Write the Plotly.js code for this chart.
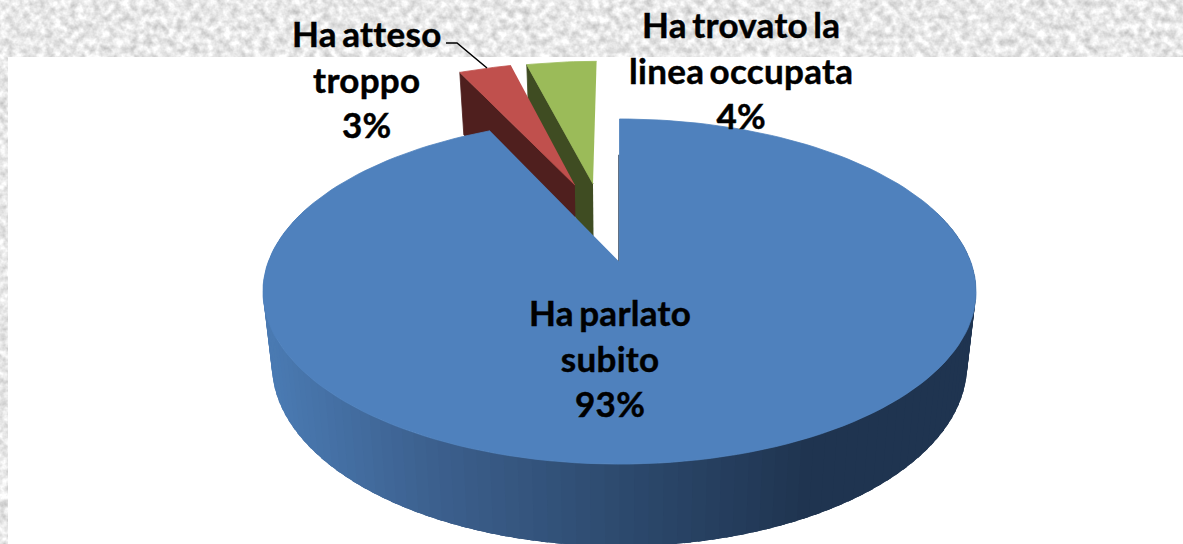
<!DOCTYPE html>
<html><head><meta charset="utf-8">
<script src="https://cdn.plot.ly/plotly-3.0.1.min.js"></script>
<style>
html,body{margin:0;padding:0;width:1183px;height:544px;overflow:hidden;background:#e9e9e9}
#tex{position:absolute;left:0;top:0}
#chart{position:absolute;left:0;top:0;width:1183px;height:544px}
.annotation-text{word-spacing:-3.5px;letter-spacing:.3px;stroke:#000;stroke-width:.45px}
</style></head>
<body>
<svg id="tex" width="1183" height="544" xmlns="http://www.w3.org/2000/svg">
<filter id="n" x="0" y="0" width="100%" height="100%" color-interpolation-filters="sRGB">
<feTurbulence type="fractalNoise" baseFrequency="0.13" numOctaves="3" seed="7"/>
<feColorMatrix type="matrix" values="0.38 0 0 0 0.72  0.38 0 0 0 0.72  0.38 0 0 0 0.72  0 0 0 0 1"/>
</filter>
<rect width="1183" height="544" filter="url(#n)"/>
</svg>
<div id="chart"></div>
<script>
const categories = ["Ha parlato<br>subito", "Ha atteso<br>troppo", "Ha trovato la<br>linea occupata"];
const values = [93, 3, 4];
const sliceColors = ["#4f81bd", "#c0504d", "#9bbb59"];
const sideColors = ["#1f3450", "#4f1f1e", "#3f4c22"];
const explodeX = [0, -0.138, -0.082];
const explodeY = [0, 0.499, 0.507];
const labelX = [610, 367, 741];
const labelY = [357.5, 78, 69.5];

// projection of the tilted pie disc to the page-pixel axes
const cx = 619.5, k = 0.1711;
const topPlane = {A: 351.3, B: 167.5, cy: 262};
const basePlane = {A: 342.5, B: 176, cy: 334};
function proj(p, X, Y) {
  const w = 1 + k * Y;
  return [cx + p.A * X / w, p.cy - p.B * Y / w];
}
function arcPts(p, i, a0, a1, n) {
  const pts = [];
  for (let j = 0; j <= n; j++) {
    const t = (a0 + (a1 - a0) * j / n) * Math.PI / 180;
    pts.push(proj(p, explodeX[i] + Math.sin(t), explodeY[i] + Math.cos(t)));
  }
  return pts;
}
function poly(pts, color, lw) {
  return {type: "scatter", mode: "lines", x: pts.map(q => q[0]), y: pts.map(q => q[1]),
    fill: "toself", fillcolor: color, line: {color: color, width: lw === undefined ? 0.8 : lw},
    hoverinfo: "skip", showlegend: false};
}
const total = values.reduce((a, b) => a + b, 0);
const starts = [], ends = [];
values.reduce((acc, v, i) => { starts[i] = acc; ends[i] = acc + v / total * 360; return ends[i]; }, 0);

const sideStops = [[270, [74, 122, 178]], [430, [60, 96, 142]], [620, [45, 74, 110]], [810, [31, 52, 80]], [1000, [31, 52, 80]]];
function sideColor(x) {
  for (let i = 1; i < sideStops.length; i++) {
    if (x <= sideStops[i][0]) {
      const a = sideStops[i - 1], b = sideStops[i];
      const f = Math.max(0, (x - a[0]) / (b[0] - a[0]));
      const c = a[1].map((v, j) => Math.round(v + (b[1][j] - v) * f));
      return "rgb(" + c.join(",") + ")";
    }
  }
  return "rgb(31,52,80)";
}

const traces = [];
// exploded slices: inner walls then top faces
[2, 1].forEach(i => {
  const a = starts[i] * Math.PI / 180;
  const edgeX = explodeX[i] + Math.sin(a), edgeY = explodeY[i] + Math.cos(a);
  traces.push(poly([
    proj(topPlane, explodeX[i], explodeY[i]), proj(topPlane, edgeX, edgeY),
    proj(basePlane, edgeX, edgeY), proj(basePlane, explodeX[i], explodeY[i])
  ], sideColors[i]));
  traces.push(poly([proj(topPlane, explodeX[i], explodeY[i])].concat(arcPts(topPlane, i, starts[i], ends[i], 12)), sliceColors[i]));
});
// outer wall of the main slice, shaded strip by strip; each strip overlaps the next
for (let t = 70; t < 290; t += 2) {
  const t1 = Math.min(t + 5, 290);
  const top = arcPts(topPlane, 0, t, t1, 1), base = arcPts(basePlane, 0, t, t1, 1);
  const mid = (arcPts(topPlane, 0, t, t + 2, 1)[0][0] + arcPts(topPlane, 0, t, t + 2, 1)[1][0]) / 2;
  traces.push(poly([top[0], top[1], base[1], base[0]], sideColor(mid), 0));
}
// thin dark edge at the start of the main slice
traces.push({type: "scatter", mode: "lines", x: [proj(topPlane, 0, 0)[0] - 0.6, proj(topPlane, 0, 0.72)[0] - 0.6],
  y: [proj(topPlane, 0, 0)[1], proj(topPlane, 0, 0.72)[1]], line: {color: sideColors[0], width: 1.2},
  hoverinfo: "skip", showlegend: false});
traces.push(poly([proj(topPlane, 0, 0)].concat(arcPts(topPlane, 0, starts[0], ends[0], 180)), sliceColors[0]));

const annotations = categories.map((c, i) => ({
  x: labelX[i], y: labelY[i], xref: "x", yref: "y", showarrow: false, align: "center",
  text: "<b>" + c + "<br>" + values[i] + "%</b>",
  font: {family: "Lato, 'Open Sans', sans-serif", size: 35, color: "#000"}
}));

Plotly.newPlot("chart", traces, {
  width: 1183, height: 544, margin: {l: 0, r: 0, t: 0, b: 0},
  paper_bgcolor: "rgba(0,0,0,0)", plot_bgcolor: "rgba(0,0,0,0)", showlegend: false,
  xaxis: {range: [0, 1183], visible: false, fixedrange: true},
  yaxis: {range: [544, 0], visible: false, fixedrange: true},
  annotations: annotations,
  shapes: [
    {type: "rect", layer: "below", xref: "x", yref: "y", x0: 8, x1: 1183, y0: 57, y1: 544, fillcolor: "#fff", line: {width: 0}},
    {type: "path", layer: "above", xref: "x", yref: "y", path: "M446,43 L457,43 L487,68", line: {color: "#000", width: 1.5}}
  ]
}, {displayModeBar: false, staticPlot: true});
</script>
</body></html>
